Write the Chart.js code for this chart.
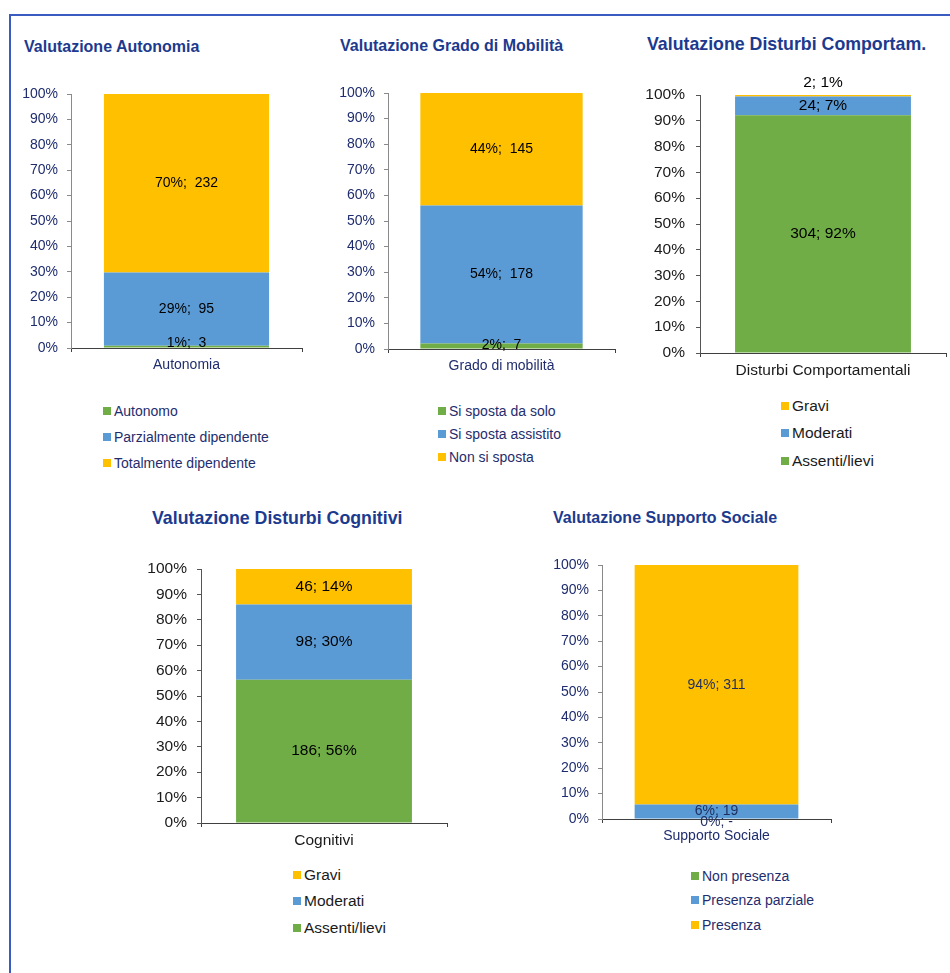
<!DOCTYPE html>
<html>
<head>
<meta charset="utf-8">
<title>Valutazioni</title>
<script src="https://cdn.jsdelivr.net/npm/chart.js@4/dist/chart.umd.min.js"></script>
<style>
  body { margin: 0; background: #fff; font-family: "Liberation Sans", Arial, sans-serif; }
  #page { position: relative; width: 950px; height: 973px; overflow: hidden; }
  #frame { position: absolute; left: 9px; top: 14px; width: 1000px; height: 1000px;
           border-left: 2px solid #3a5bc0; border-top: 2px solid #3a5bc0; }
  .title { position: absolute; font-weight: bold; color: #1c3a8e; white-space: nowrap; line-height: 22px; }
  .legend-row { position: absolute; display: flex; align-items: center; height: 20px; white-space: nowrap; }
  .legend-row i { display: inline-block; width: 8px; height: 8px; margin-right: 3px; }
  canvas { position: absolute; }
</style>
</head>
<body>
<div id="page"><div id="frame"></div></div>
<script>
const autonomiaCategories = ['Autonomia'];
const autonomiaSeries = ['Autonomo', 'Parzialmente dipendente', 'Totalmente dipendente'];
const autonomiaValues = [3, 95, 232];

const mobilitaCategories = ['Grado di mobilità'];
const mobilitaSeries = ['Si sposta da solo', 'Si sposta assistito', 'Non si sposta'];
const mobilitaValues = [7, 178, 145];

const comportamCategories = ['Disturbi Comportamentali'];
const comportamSeries = ['Assenti/lievi', 'Moderati', 'Gravi'];
const comportamValues = [304, 24, 2];

const cognitiviCategories = ['Cognitivi'];
const cognitiviSeries = ['Assenti/lievi', 'Moderati', 'Gravi'];
const cognitiviValues = [186, 98, 46];

const supportoCategories = ['Supporto Sociale'];
const supportoSeries = ['Non presenza', 'Presenza parziale', 'Presenza'];
const supportoValues = [0, 19, 311];

const percentTicks = ['0%', '10%', '20%', '30%', '40%', '50%', '60%', '70%', '80%', '90%', '100%'];

const seriesColors = ['#70ad47', '#5b9bd5', '#ffc000'];
const FONT = '"Liberation Sans", Arial, sans-serif';
const NAVY = '#1f2d6e';
const DARK = '#1a1a1a';

// etichette dentro i segmenti (testo centrato sul segmento, con spostamento opzionale)
const segmentLabels = {
  id: 'segmentLabels',
  afterDatasetsDraw(chart, args, opts) {
    const ctx = chart.ctx;
    ctx.save();
    ctx.font = opts.size + 'px ' + FONT;
    ctx.fillStyle = opts.color;
    ctx.textAlign = 'center';
    ctx.textBaseline = 'middle';
    chart.data.datasets.forEach((ds, i) => {
      chart.getDatasetMeta(i).data.forEach((bar) => {
        const y = (bar.y + bar.base) / 2 + (opts.offsets[i] || 0);
        ctx.fillText(opts.texts[i], bar.x, y);
      });
    });
    ctx.restore();
  }
};

const panels = [
  { title: 'Valutazione Autonomia', categories: autonomiaCategories, series: autonomiaSeries, values: autonomiaValues,
    fmt: (p, v) => p + '%;  ' + v,
    titlePos: [24, 47, 16], box: { left: 71, top: 94, bottom: 348, right: 302 },
    text: 14, textColor: NAVY, labelColor: '#000', yPad: 9, xPad: 5, yAxisColor: '#8a8a8a',
    legend: { x: 103, ys: [411, 437, 463], reverse: false }, offsets: [-3, 0, 0] },
  { title: 'Valutazione Grado di Mobilità', categories: mobilitaCategories, series: mobilitaSeries, values: mobilitaValues,
    fmt: (p, v) => p + '%;  ' + v,
    titlePos: [340, 46, 16], box: { left: 388, top: 93, bottom: 349, right: 615 },
    text: 14, textColor: NAVY, labelColor: '#000', yPad: 9, xPad: 5, yAxisColor: '#8a8a8a',
    legend: { x: 438, ys: [411, 434, 457], reverse: false }, offsets: [-1, 0, 0] },
  { title: 'Valutazione Disturbi Comportam.', categories: comportamCategories, series: comportamSeries, values: comportamValues,
    fmt: (p, v) => v + '; ' + p + '%',
    titlePos: [647, 44, 17.75], box: { left: 700, top: 95, bottom: 353, right: 946 },
    text: 15.5, textColor: DARK, labelColor: '#000', yPad: 11, xPad: 4, yAxisColor: '#555',
    legend: { x: 781, ys: [406, 433, 461], reverse: true }, offsets: [0, 0, -13] },
  { title: 'Valutazione Disturbi Cognitivi', categories: cognitiviCategories, series: cognitiviSeries, values: cognitiviValues,
    fmt: (p, v) => v + '; ' + p + '%',
    titlePos: [152, 518, 17.75], box: { left: 201, top: 569, bottom: 823, right: 447 },
    text: 15.5, textColor: DARK, labelColor: '#000', yPad: 10, xPad: 4, yAxisColor: '#555',
    legend: { x: 293, ys: [875, 901, 928], reverse: true }, offsets: [0, 0, 0] },
  { title: 'Valutazione Supporto Sociale', categories: supportoCategories, series: supportoValues && supportoSeries, values: supportoValues,
    fmt: (p, v) => p + '%; ' + (v === 0 ? '-' : v),
    titlePos: [553, 518, 16], box: { left: 602, top: 565, bottom: 819, right: 831 },
    text: 14, textColor: NAVY, labelColor: '#1f2d5e', yPad: 9, xPad: 5, yAxisColor: '#8a8a8a',
    legend: { x: 691, ys: [876, 900, 925], reverse: false }, offsets: [3, 0, 0] }
];

const page = document.getElementById('page');
const Y_W = 60, X_H = 40, PAD_T = 25, PAD_R = 6;

panels.forEach((p) => {
  const title = document.createElement('div');
  title.className = 'title';
  title.textContent = p.title;
  title.style.left = p.titlePos[0] + 'px';
  title.style.top = (p.titlePos[1] - 11) + 'px';
  title.style.fontSize = p.titlePos[2] + 'px';
  page.appendChild(title);

  // legenda verticale
  const order = p.series.map((s, i) => i);
  if (p.legend.reverse) order.reverse();
  order.forEach((si, row) => {
    const r = document.createElement('div');
    r.className = 'legend-row';
    r.style.left = p.legend.x + 'px';
    r.style.top = (p.legend.ys[row] - 10) + 'px';
    r.style.fontSize = p.text + 'px';
    r.style.color = p.textColor;
    r.innerHTML = '<i style="background:' + seriesColors[si] + '"></i>';
    r.appendChild(document.createTextNode(p.series[si]));
    page.appendChild(r);
  });

  const b = p.box;
  const canvas = document.createElement('canvas');
  const w = (b.right - b.left) + Y_W + PAD_R;
  const h = (b.bottom - b.top) + PAD_T + X_H;
  canvas.style.left = (b.left - Y_W) + 'px';
  canvas.style.top = (b.top - PAD_T) + 'px';
  canvas.style.width = w + 'px';
  canvas.style.height = h + 'px';
  canvas.width = w;
  canvas.height = h;
  page.appendChild(canvas);

  const total = p.values.reduce((a, c) => a + c, 0);
  const pct = p.values.map((v) => Math.round(v / total * 100));

  new Chart(canvas, {
    type: 'bar',
    data: {
      labels: p.categories,
      datasets: p.series.map((s, i) => ({
        label: s,
        data: [p.values[i] / total * 100],
        backgroundColor: seriesColors[i],
        borderWidth: 0,
        barPercentage: 0.715,
        categoryPercentage: 1
      }))
    },
    options: {
      responsive: false,
      animation: false,
      layout: { padding: { top: PAD_T, right: PAD_R, left: 0, bottom: 0 } },
      plugins: {
        legend: { display: false },
        tooltip: { enabled: false },
        segmentLabels: {
          texts: p.values.map((v, i) => p.fmt(pct[i], v)),
          offsets: p.offsets,
          size: p.text,
          color: p.labelColor
        }
      },
      scales: {
        x: {
          stacked: true,
          border: { display: true, color: '#404040', width: 1 },
          grid: { display: true, drawOnChartArea: false, drawTicks: true, tickLength: 4, color: '#404040' },
          ticks: { color: p.textColor, padding: p.xPad, font: { family: FONT, size: p.text } },
          afterFit: (scale) => { scale.height = X_H; }
        },
        y: {
          stacked: true,
          min: 0,
          max: 100,
          border: { display: true, color: p.yAxisColor, width: 1 },
          grid: { display: true, drawOnChartArea: false, drawTicks: true, tickLength: 4, color: p.yAxisColor },
          ticks: {
            stepSize: 10,
            color: p.textColor,
            padding: p.yPad,
            font: { family: FONT, size: p.text },
            callback: (v, i) => percentTicks[i]
          },
          afterFit: (scale) => { scale.width = Y_W; }
        }
      }
    },
    plugins: [segmentLabels]
  });
});
</script>
</body>
</html>
